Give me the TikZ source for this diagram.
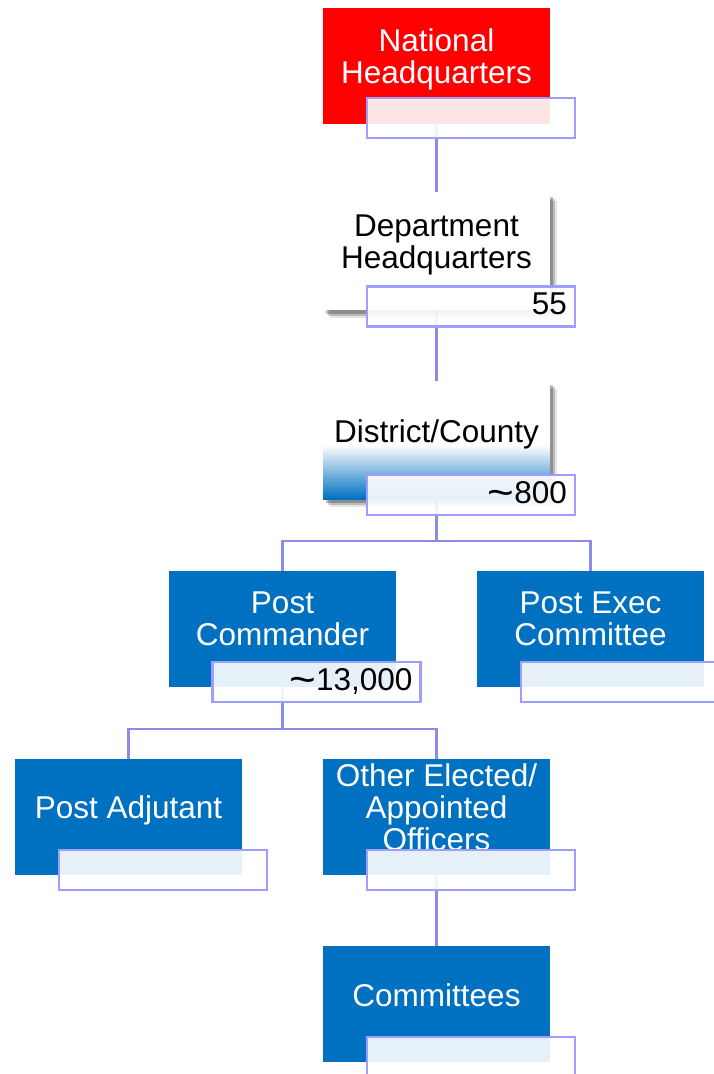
\documentclass[tikz,border=0pt]{standalone}
\usepackage{fontspec}
\setmainfont{Liberation Sans}
\usepackage{xcolor}
\usepackage{tikz}
\usetikzlibrary{positioning, shadows, backgrounds}

\definecolor{orgblue}{RGB}{0,112,192}
\definecolor{cntline}{RGB}{158,158,255}
\definecolor{linkline}{RGB}{140,140,228}

\pgfdeclareverticalshading{distshade}{100bp}{color(0bp)=(orgblue); color(25bp)=(orgblue); color(48bp)=(white); color(100bp)=(white)}

\newcommand{\approxmark}{\raisebox{-3pt}{\scalebox{1.45}[1.3]{\textasciitilde}}}

\tikzset{
	orgbox/.style = {minimum width = 227pt, minimum height = 116pt, inner sep = 0pt},
	orgtext/.style = {font = \fontsize{31.5}{32}\selectfont, align = center, text depth = 0pt, inner sep = 0pt},
	cntbox/.style = {draw = cntline, line width = 2.5pt, fill = white, fill opacity = 0.9, text opacity = 1,
		minimum height = 40pt, text width = 192pt, inner xsep = 8pt, inner ysep = 0pt, align = right,
		text depth = 5pt, font = \fontsize{31.5}{32}\selectfont},
	softshadow/.style = {general shadow = {shadow xshift = 7pt, shadow yshift = -8pt, fill = black, opacity = 0.1},
		general shadow = {shadow xshift = 5pt, shadow yshift = -6pt, fill = black, opacity = 0.18},
		general shadow = {shadow xshift = 3pt, shadow yshift = -4pt, fill = black, opacity = 0.25}},
	link/.style = {draw = linkline, line width = 2.2pt}
}

\begin{document}
\begin{tikzpicture}[x = 1pt,
				y = -1pt,
				thick]
				\useasboundingbox (0,0) rectangle (714,1074);
				% top levels
				\node at (436.5,66) (nat) [orgbox, fill = red] {};
				\node at ([yshift = 10pt]nat.center) (nat-t) [orgtext, text = white] {National\\Headquarters};
				\node at (471,118) (nat-n) [cntbox] {};
				\node at (436.5,251) (dep) [orgbox, minimum height = 117pt, fill = white, softshadow] {};
				\node at ([yshift = 9pt]dep.center) (dep-t) [orgtext] {Department\\Headquarters};
				\node at (471,306.5) (dep-n) [cntbox] {55};
				\node at (436.5,440) (dis) [orgbox, minimum height = 118pt, shading = distshade, softshadow] {};
				\node at ([yshift = 9pt]dis.center) (dis-t) [orgtext] {District/County};
				\node at (471,495) (dis-n) [cntbox] {\approxmark800};
				% posts
				\node at (282.5,629) (cmd) [orgbox, fill = orgblue] {};
				\node at ([yshift = 10pt]cmd.center) (cmd-t) [orgtext, text = white] {Post\\Commander};
				\node at (316.5,682) (cmd-n) [cntbox] {\approxmark13,000};
				\node at (590.5,629) (exe) [orgbox, fill = orgblue] {};
				\node at ([yshift = 10pt]exe.center) (exe-t) [orgtext, text = white] {Post Exec\\Committee};
				\node at (625,682) (exe-n) [cntbox] {};
				\node at (128.5,817) (adj) [orgbox, fill = orgblue] {};
				\node at ([yshift = 10pt]adj.center) (adj-t) [orgtext, text = white] {Post Adjutant};
				\node at (163,870) (adj-n) [cntbox] {};
				\node at (436.5,817) (oth) [orgbox, fill = orgblue] {};
				\node at ([yshift = 10pt]oth.center) (oth-t) [orgtext, text = white] {Other Elected/\\Appointed\\Officers};
				\node at (471,870) (oth-n) [cntbox] {};
				\node at (436.5,1004) (com) [orgbox, fill = orgblue] {};
				\node at ([yshift = 9pt]com.center) (com-t) [orgtext, text = white] {Committees};
				\node at (471,1057) (com-n) [cntbox] {};
				% links
				\begin{scope}[on background layer]
					\coordinate (j1) at (436.5,541);
					\coordinate (j2) at (282.5,729);
					\draw[link] (nat) -- (dep);
					\draw[link] (dep) -- (dis);
					\draw[link] (dis) -- (j1);
					\draw[link] (j1) -| (cmd);
					\draw[link] (j1) -| (exe);
					\draw[link] (cmd) -- (j2);
					\draw[link] (j2) -| (adj);
					\draw[link] (j2) -| (oth);
					\draw[link] (oth) -- (com);
				\end{scope}
			\end{tikzpicture}
\end{document}
